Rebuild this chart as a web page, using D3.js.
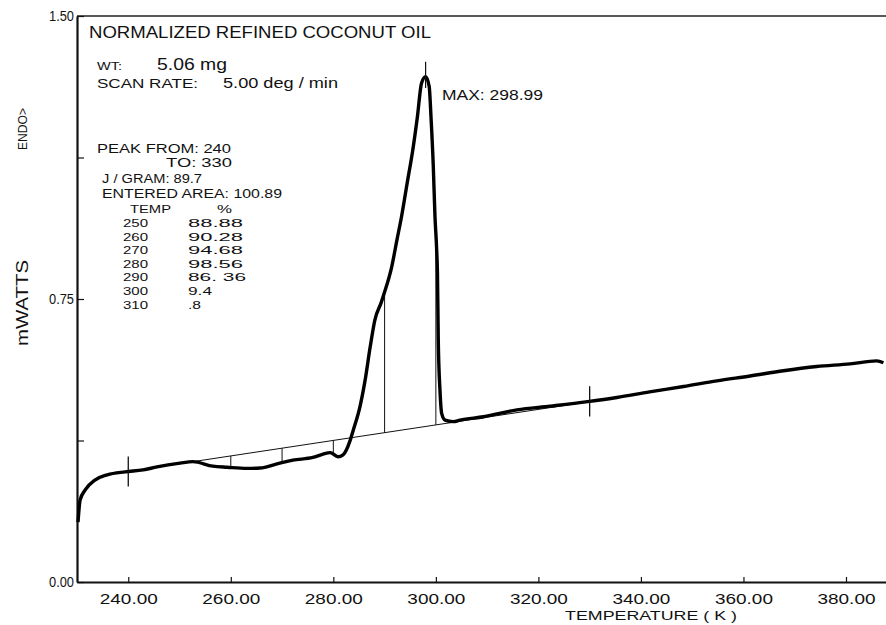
<!DOCTYPE html>
<html><head><meta charset="utf-8">
<script src="https://cdn.jsdelivr.net/npm/d3@7"></script>
<style>
html,body{margin:0;padding:0;background:#fff;}
svg{display:block;}
text{font-family:"Liberation Sans","Noto Sans",sans-serif;fill:#111;}
</style></head>
<body>
<svg id="c" width="886" height="625"></svg>
<script>
// ---- data ----
const temperature = [230.2,230.6,231.6,233.5,235.9,239.4,242.9,245.6,250.1,252.6,256.5,259.3,263.2,265.7,269.0,272.1,276.0,278.0,279.4,280.9,281.9,283.3,283.9,285.2,286.2,287.2,288.1,289.4,289.7,291.4,292.4,293.3,294.4,295.5,296.4,297.2,298.0,298.7,299.05,299.5,299.83,300.16,300.31,300.47,300.8,301.13,301.8,303.4,304.7,309.3,315.8,322.3,329.6,335.3,341.7,348.3,354.8,361.3,367.8,374.3,380.8,386.0,387.3];
const power = [0.159,0.217,0.244,0.270,0.284,0.292,0.297,0.305,0.315,0.319,0.307,0.304,0.301,0.302,0.313,0.323,0.330,0.339,0.343,0.332,0.337,0.376,0.403,0.465,0.535,0.624,0.694,0.743,0.756,0.836,0.906,0.968,1.057,1.145,1.233,1.322,1.339,1.313,1.233,1.101,0.968,0.880,0.819,0.641,0.509,0.447,0.429,0.425,0.429,0.438,0.456,0.466,0.478,0.489,0.504,0.518,0.533,0.546,0.560,0.571,0.578,0.586,0.581];
const xTicks = [240,260,280,300,320,340,360,380];
const yTicks = [0,0.375,0.75,1.125,1.5];
const yTickLabels = {0:"0.00",0.75:"0.75",1.5:"1.50"};
const peakFrom = 240, peakTo = 330;
const baselineT = [240,330];
const baselineV = [0.293,0.478];
const partialTemps = [250,260,270,280,290,300,310];
const partialPercents = ["88.88","90.28","94.68","98.56","86. 36","9.4",".8"];
const peakMaxLabel = "MAX: 298.99";

// ---- scales ----
const svg = d3.select("#c");
const x = d3.scaleLinear().domain([230,388]).range([77,887]);
const y = d3.scaleLinear().domain([0,1.5]).range([582,16]);

// frame top
svg.append("line").attr("x1",77).attr("x2",886).attr("y1",16).attr("y2",16)
  .attr("stroke","#222").attr("stroke-width",1.4);

// x axis
const gx = svg.append("g").attr("transform","translate(0,582)")
  .call(d3.axisBottom(x).tickValues(xTicks).tickSize(-5).tickSizeOuter(0).tickPadding(10)
  .tickFormat(d=>d.toFixed(2)));
gx.attr("font-size",14).attr("font-family","Liberation Sans");
gx.select(".domain").attr("stroke","#111").attr("stroke-width",2);
gx.selectAll(".tick line").attr("stroke","#111").attr("stroke-width",1.2);
gx.selectAll(".tick text").attr("dy","0.85em").attr("textLength",58).attr("lengthAdjust","spacingAndGlyphs").attr("fill","#111");

// y axis
const gy = svg.append("g").attr("transform","translate(77,0)")
  .call(d3.axisLeft(y).tickValues(yTicks).tickSize(-7).tickSizeOuter(0).tickPadding(3)
  .tickFormat(d=>yTickLabels[d]||""));
gy.attr("font-size",15).attr("font-family","Liberation Sans");
gy.select(".domain").attr("stroke","#111").attr("stroke-width",2.2);
gy.selectAll(".tick line").attr("stroke","#111").attr("stroke-width",1.2);
gy.selectAll(".tick text").attr("textLength",25).attr("lengthAdjust","spacingAndGlyphs").attr("fill","#111");

// axis titles
svg.append("text").attr("x",565).attr("y",620).attr("font-size",13.5)
  .attr("textLength",172).attr("lengthAdjust","spacingAndGlyphs").text("TEMPERATURE  ( K )");
svg.append("text").attr("transform","translate(28,303) rotate(-90)").attr("text-anchor","middle")
  .attr("font-size",16).attr("textLength",86).attr("lengthAdjust","spacingAndGlyphs").text("mWATTS");
svg.append("text").attr("transform","translate(27,129) rotate(-90)").attr("text-anchor","middle")
  .attr("font-size",13).attr("textLength",42).attr("lengthAdjust","spacingAndGlyphs").text("ENDO>");

// data helpers
const pts = temperature.map((t,i)=>[t,power[i]]);
function curveAt(t){
  for(let i=1;i<pts.length;i++){ if(pts[i][0]>=t){const a=pts[i-1],b=pts[i];return a[1]+(b[1]-a[1])*(t-a[0])/(b[0]-a[0]);} }
  return pts[pts.length-1][1];
}
const baseAt = t => baselineV[0]+(baselineV[1]-baselineV[0])*(t-baselineT[0])/(baselineT[1]-baselineT[0]);

// baseline
svg.append("line").attr("x1",x(baselineT[0])).attr("y1",y(baselineV[0]))
  .attr("x2",x(baselineT[1])).attr("y2",y(baselineV[1])).attr("stroke","#111").attr("stroke-width",1);
// partial-area lines
svg.selectAll(".pl").data(partialTemps).join("line")
  .attr("x1",d=>x(d)).attr("x2",d=>x(d)).attr("y1",d=>y(baseAt(d))).attr("y2",d=>y(curveAt(d)))
  .attr("stroke","#111").attr("stroke-width",1);

// curve
svg.append("path").datum(pts)
  .attr("d",d3.line().x(d=>x(d[0])).y(d=>y(d[1])).curve(d3.curveMonotoneX))
  .attr("fill","none").attr("stroke","#000").attr("stroke-width",3.4).attr("stroke-linejoin","round");

// cursor marks
[peakFrom,peakTo].forEach(t=>{
  const v=curveAt(t);
  svg.append("line").attr("x1",x(t)).attr("x2",x(t)).attr("y1",y(v-0.04)).attr("y2",y(v+0.04))
    .attr("stroke","#111").attr("stroke-width",1.3);
});
// max tick
const imax = d3.maxIndex(power);
svg.append("line").attr("x1",x(temperature[imax])).attr("x2",x(temperature[imax]))
  .attr("y1",y(power[imax]-0.03)).attr("y2",y(power[imax]+0.04)).attr("stroke","#111").attr("stroke-width",1.2);
svg.append("text").attr("x",442).attr("y",100).attr("font-size",14)
  .attr("textLength",101).attr("lengthAdjust","spacingAndGlyphs").text(peakMaxLabel);

// header texts
function txt(s,xx,yy,fs,len){
  const t=svg.append("text").attr("x",xx).attr("y",yy).attr("font-size",fs).text(s);
  if(len) t.attr("textLength",len).attr("lengthAdjust","spacingAndGlyphs");
  return t;
}
txt("NORMALIZED  REFINED  COCONUT  OIL",89,38,17,342);
txt("WT:",97,70,11.5,25);
txt("5.06 mg",157,70,16,70);
txt("SCAN  RATE:",97,88,13,101);
txt("5.00 deg / min",223,88,15,115);

txt("PEAK  FROM: "+peakFrom,97,153,12.5,134);
txt("TO: "+peakTo,166,167,12.5,66);
txt("J / GRAM: 89.7",102,183,12.5,100);
txt("ENTERED  AREA: 100.89",102,198,12.5,180);
txt("TEMP",130,213,11.5,41);
txt("%",217,213,11.5,15);
const rowY=[227,240.5,254,267.5,281,295,309];
const valW={"88.88":55,"90.28":55,"94.68":55,"98.56":55,"86. 36":58,"9.4":24,".8":13};
partialTemps.forEach((t,i)=>{
  txt(String(t),123,rowY[i],11.5,25);
  txt(partialPercents[i],188,rowY[i],11.5,valW[partialPercents[i]]);
});
</script>
</body></html>
